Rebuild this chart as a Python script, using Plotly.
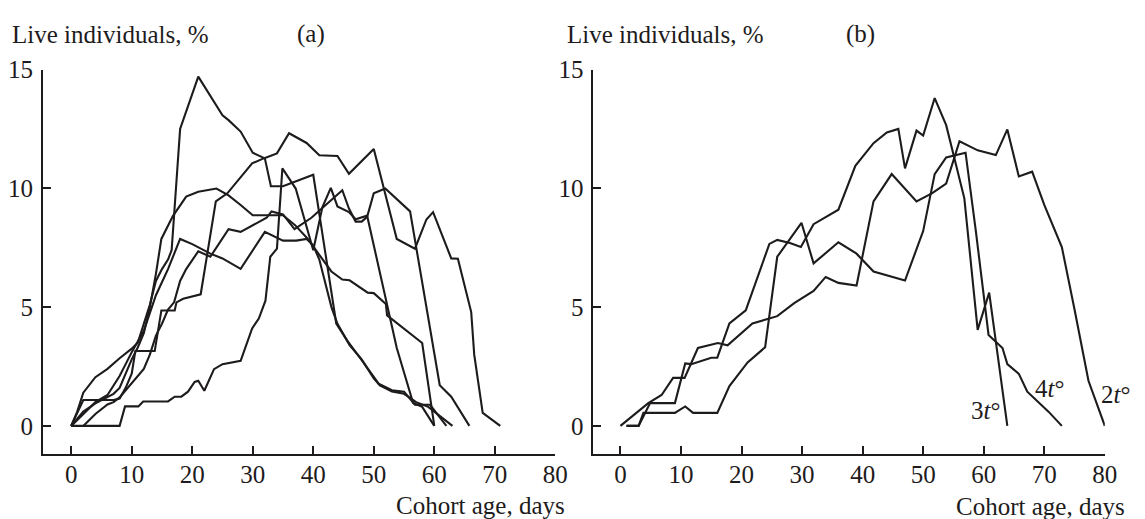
import plotly.graph_objects as go

# ---------------- Panel (a): cohorts, age (days) vs live individuals (%) ----------------
a1_age = [0, 1, 2, 4, 6, 8, 10, 11, 12, 13, 14, 15, 16, 16.6, 18, 21, 25, 26, 28, 30, 32, 33, 35, 40,
          43.8, 45.7, 48.1, 50.8, 53, 55, 56.8, 59.3, 62]
a1_val = [0, 0.6, 1.4, 2.05, 2.4, 2.85, 3.25, 3.5, 4.3, 5.1, 6.1, 6.6, 7.0, 7.4, 12.5, 14.7, 13.07, 12.87,
          12.39, 11.5, 11.26, 10.09, 10.09, 10.57, 4.31, 3.56, 2.74, 1.78, 1.5, 1.44, 0.89, 0.89, 0]

a2_age = [0, 2, 4, 6, 7, 8, 9, 10, 11, 12, 13, 14, 14.9, 16.8, 19, 21, 24, 26, 28, 30, 33, 35, 37, 39,
          41, 42, 43, 44.8, 46, 49, 50, 52, 52.2, 58, 60]
a2_val = [0, 0.6, 0.95, 1.2, 1.35, 1.6, 2.2, 2.8, 3.3, 3.9, 5.0, 6.4, 7.87, 8.83, 9.65, 9.86, 9.99, 9.7,
          9.3, 8.87, 8.87, 8.87, 8.45, 7.9, 7.2, 6.84, 6.5, 6.16, 6.13, 5.61, 5.59, 5.13, 4.65, 3.49, 0]

a3_age = [0, 2, 7, 8, 9, 10, 10.6, 13.8, 14.9, 17.1, 17.4, 18.5, 21.4, 23.9, 25.8, 28, 29.9, 31.8, 34,
          36, 38.9, 41, 44, 45.9, 50, 53.8, 56.8, 58.7, 59.8, 62.8, 63.9, 66.1, 66.6, 68, 70.9]
a3_val = [0, 1.09, 1.09, 1.15, 1.6, 2.2, 3.15, 3.15, 4.86, 4.86, 5.2, 5.35, 5.54, 9.45, 9.79, 10.47,
          11.05, 11.26, 11.47, 12.32, 11.91, 11.39, 11.36, 10.61, 11.66, 7.87, 7.46, 8.69, 9.0, 7.05,
          7.04, 4.79, 3.0, 0.55, 0]

a4_age = [0, 2, 4, 6, 7, 8, 9, 10, 12, 14, 16, 18, 20, 23, 25, 28, 32, 35, 37.2, 38.9, 40, 41, 42, 43,
          44, 46, 48, 50, 51, 53, 55, 57, 59, 63]
a4_val = [0, 0.5, 1.0, 1.3, 1.7, 2.1, 2.6, 3.1, 4.0, 5.5, 6.6, 7.87, 7.65, 7.25, 7.05, 6.61, 8.17, 7.8,
          7.8, 7.87, 7.6, 7.0, 6.0, 5.0, 4.3, 3.4, 2.8, 2.0, 1.7, 1.45, 1.35, 1.0, 0.8, 0]

a5_age = [2, 4, 6, 7, 8, 9, 10, 12, 13, 14, 15, 16, 17, 18, 19, 21, 23, 26, 28, 30, 32.3, 33.1, 35,
          36.9, 39.7, 42.1, 44.8, 45.9, 47, 48, 48.9, 50, 51.9, 56, 60.9, 62.8, 65.8]
a5_val = [0, 0.5, 0.9, 1.0, 1.2, 1.5, 1.8, 2.4, 3.0, 3.8, 4.3, 4.9, 5.2, 6.1, 6.6, 7.35, 7.12, 8.28,
          8.17, 8.46, 8.76, 9.03, 8.9, 8.28, 8.76, 9.31, 9.92, 9.15, 8.6, 8.6, 8.8, 9.79, 9.99, 9.03,
          1.71, 1.23, 0]

a6_age = [0, 8, 8.9, 11.1, 11.9, 16, 17.1, 18.2, 19.3, 20.4, 21, 22, 23.6, 25, 28, 29.9, 31, 32.1, 32.9,
          34, 34.9, 37.1, 40, 41.5, 42.9, 44, 45.9, 47, 48.9, 53.8, 56.5, 58, 60]
a6_val = [0, 0, 0.82, 0.82, 1.03, 1.03, 1.23, 1.23, 1.44, 1.85, 1.9, 1.48, 2.39, 2.6, 2.74, 4.1, 4.52,
          5.27, 7.12, 7.46, 10.84, 9.99, 7.39, 9.2, 10.02, 9.24, 9.0, 8.7, 8.85, 3.28, 0.96, 0.8, 0]

# ---------------- Panel (b): temperature regimes ----------------
b2_age = [0, 4.6, 6.8, 8.7, 10.6, 12.8, 16.1, 17.7, 21.8, 25.9, 28.7, 31.9, 33.9, 36, 39, 41.8, 44.8,
          48.9, 51.5, 53.8, 56, 59, 62, 63.9, 65.8, 68, 70, 72.9, 75, 77.3, 80]
b2_val = [0, 0.96, 1.3, 2.02, 2.02, 3.28, 3.49, 3.39, 4.31, 4.62, 5.17, 5.68, 6.27, 6.02, 5.91, 9.45,
          10.6, 9.45, 9.8, 10.2, 11.98, 11.6, 11.4, 12.48, 10.5, 10.7, 9.3, 7.53, 4.9, 1.9, 0]

b3_age = [1, 3, 4.9, 9, 10.7, 11.7, 15, 16, 18, 20.7, 24.6, 25.9, 28, 29.8, 31.9, 36, 38.8, 41.8, 44,
          45.9, 47, 48.9, 50, 51.9, 53.8, 56.8, 59, 60.9, 63.9]
b3_val = [0, 0, 0.96, 0.96, 2.63, 2.6, 2.87, 2.87, 4.31, 4.86, 7.66, 7.83, 7.7, 7.53, 8.49, 9.10, 10.95,
          11.9, 12.35, 12.5, 10.84, 12.43, 12.22, 13.8, 12.66, 9.58, 4.04, 5.61, 0]

b4_age = [1, 3, 3.8, 9, 10.7, 12, 16, 18, 21, 23.9, 25.9, 29.9, 31.9, 36, 39, 41.8, 47, 50, 51.9, 53.8,
          57, 58.7, 60.8, 63.1, 63.9, 65.8, 67.2, 70.7, 72.9]
b4_val = [0, 0, 0.55, 0.55, 0.82, 0.55, 0.55, 1.68, 2.67, 3.31, 7.12, 8.55, 6.84, 7.73, 7.25, 6.5, 6.12,
          8.2, 10.6, 11.3, 11.5, 8.2, 3.83, 3.28, 2.6, 2.19, 1.44, 0.6, 0]

x_ticks = [0, 10, 20, 30, 40, 50, 60, 70, 80]
y_ticks = [0, 5, 10, 15]
y_label = "Live individuals, %"
x_label = "Cohort age, days"
panel_labels = ["(a)", "(b)"]
curve_labels = ["3<i>t</i>°", "4<i>t</i>°", "2<i>t</i>°"]

INK = "#1e1b1c"
FONT = "Liberation Serif, Times New Roman, Times, serif"
FS = 25
W, H = 1145, 519

fig = go.Figure()
line_style = dict(color=INK, width=2.1)

for xs, ys in [(a1_age, a1_val), (a2_age, a2_val), (a3_age, a3_val),
               (a4_age, a4_val), (a5_age, a5_val), (a6_age, a6_val)]:
    fig.add_trace(go.Scatter(x=xs, y=ys, mode="lines", line=line_style,
                             xaxis="x", yaxis="y", showlegend=False, hoverinfo="skip"))

for xs, ys in [(b2_age, b2_val), (b3_age, b3_val), (b4_age, b4_val)]:
    fig.add_trace(go.Scatter(x=xs, y=ys, mode="lines", line=line_style,
                             xaxis="x2", yaxis="y2", showlegend=False, hoverinfo="skip"))

ydom = [(H - 452.5) / H, (H - 58) / H]

axis_common = dict(showline=True, linecolor=INK, linewidth=1.6, ticks="inside", ticklen=8,
                   tickwidth=1.6, tickcolor=INK, showgrid=False, zeroline=False,
                   tickfont=dict(family=FONT, size=FS, color=INK), fixedrange=True)

fig.update_layout(
    width=W, height=H,
    margin=dict(l=0, r=0, t=0, b=0),
    paper_bgcolor="white", plot_bgcolor="white",
    font=dict(family=FONT, size=FS, color=INK),
    xaxis=dict(domain=[43.3 / W, 561.7 / W], range=[-4.69, 80], tickvals=x_ticks,
               anchor="y", ticklabelstandoff=-3, **axis_common),
    yaxis=dict(domain=ydom, range=[-1.19, 15], tickvals=y_ticks, anchor="x",
               ticklabelstandoff=3, **axis_common),
    xaxis2=dict(domain=[600 / W, 1117.5 / W], range=[-4.5, 80], tickvals=x_ticks,
                anchor="y2", ticklabelstandoff=-3, **axis_common),
    yaxis2=dict(domain=ydom, range=[-1.19, 15], tickvals=y_ticks, anchor="x2",
                ticklabelstandoff=3, **axis_common),
)

ann = []
def txt(text, x, y, xanchor="center", yanchor="middle"):
    ann.append(dict(text=text, x=x, y=y, xref="paper", yref="paper", showarrow=False,
                    xanchor=xanchor, yanchor=yanchor,
                    font=dict(family=FONT, size=FS, color=INK)))

txt(y_label, 10 / W, 1 - 22 / H, xanchor="left")
txt(y_label, 571 / W, 1 - 22 / H, xanchor="left")
txt(panel_labels[0], 315 / W, 1 - 22 / H)
txt(panel_labels[1], 870 / W, 1 - 22 / H)
txt(x_label, 574 / W, 1 - 505 / H, xanchor="right")
txt(x_label, 1140 / W, 1 - 506 / H, xanchor="right")
txt(curve_labels[0], 997 / W, 1 - 408 / H)
txt(curve_labels[1], 1062 / W, 1 - 385 / H)
txt(curve_labels[2], 1128 / W, 1 - 391 / H)

fig.update_layout(annotations=ann)
fig.write_html("out.html")
